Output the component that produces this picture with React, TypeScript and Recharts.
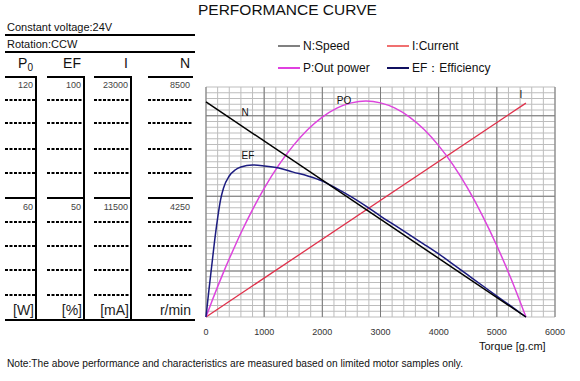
import React from "react";
import { LineChart, Line, XAxis, YAxis, CartesianGrid } from "recharts";

// ---- data (normalized 0-100 plot height) ----
const speedTorque = [0, 5500];
const speedValue = [93.5, 0];
const currentTorque = [0, 5500];
const currentValue = [0, 93];
const powerTorque = [0, 100, 200, 300, 400, 500, 600, 800, 1000, 1250, 1500, 1750, 2000, 2250, 2500, 2750, 3000, 3250, 3500, 3750, 4000, 4250, 4500, 4750, 5000, 5250, 5500];
const powerValue = [0, 6.7, 13.2, 19.4, 25.3, 31.0, 36.5, 46.7, 55.9, 66.0, 74.5, 81.5, 86.9, 90.8, 93.1, 93.9, 93.1, 90.8, 86.9, 81.5, 74.5, 66.0, 55.9, 44.2, 31.0, 16.3, 0];
const effTorque = [0, 50, 100, 150, 200, 250, 300, 400, 500, 600, 800, 1000, 1250, 1500, 1750, 2000, 2250, 2500, 2750, 3000, 3250, 3500, 3750, 4000, 4250, 4500, 4750, 5000, 5250, 5500];
const effValue = [0, 11.7, 22.6, 33.5, 43, 50.9, 56, 61.3, 63.9, 65.2, 66.1, 65.7, 64.8, 63, 61.3, 59.1, 55.8, 52.2, 48.2, 43.9, 39.8, 35.7, 31.6, 27.4, 22.9, 18.3, 13.7, 9.1, 4.6, 0];

const X_DOMAIN = [0, 6000];
const Y_DOMAIN = [0, 100];
const xTicks = [0, 1000, 2000, 3000, 4000, 5000, 6000];
const minorX = Array.from({ length: 31 }, (_, i) => i * 200);
const minorY = Array.from({ length: 41 }, (_, i) => i * 2.5);
const majorY = [20, 52.5, 87.5];

const tableHeaders = ["P", "EF", "I", "N"];
const topValues = ["120", "100", "23000", "8500"];
const midValues = ["60", "50", "11500", "4250"];
const units = ["[W]", "[%]", "[mA]", "r/min"];

const legendItems = [
  { label: "N:Speed", color: "#808080", x: 278, y: 46 },
  { label: "I:Current", color: "#f07070", x: 387, y: 46 },
  { label: "P:Out power", color: "#e040e0", x: 278, y: 68 },
  { label: "EF\uFF1AEfficiency", color: "#101060", x: 387, y: 68 },
];

const curveLabels = [
  { text: "N", x: 245, y: 113 },
  { text: "PO", x: 344, y: 101 },
  { text: "EF", x: 248, y: 156 },
  { text: "I", x: 521, y: 95 },
];

const toSeries = (t: number[], v: number[]) => t.map((x, i) => ({ t: x, v: v[i] }));

const colLeft = [5, 47, 94, 148];
const colRight = [36, 84, 131, 193];
const dottedY = [100, 123, 149, 173, 222, 246, 270, 295];

const FONT = "'Liberation Sans', Arial, sans-serif";

const xGen = (vals: number[]) => (p: any) => {
  const s = p?.xAxis?.scale;
  if (typeof s === "function") return vals.map((v) => s(v));
  const o = p.offset;
  return vals.map((v) => o.left + ((v - X_DOMAIN[0]) / (X_DOMAIN[1] - X_DOMAIN[0])) * o.width);
};
const yGen = (vals: number[]) => (p: any) => {
  const s = p?.yAxis?.scale;
  if (typeof s === "function") return vals.map((v) => s(v));
  const o = p.offset;
  return vals.map((v) => o.top + (1 - (v - Y_DOMAIN[0]) / (Y_DOMAIN[1] - Y_DOMAIN[0])) * o.height);
};

function Table() {
  return (
    <svg width={210} height={330} style={{ position: "absolute", left: 0, top: 0 }} fontFamily={FONT}>
      <text x={7} y={31} fontSize={11} fill="#111">Constant voltage:24V</text>
      <line x1={5} x2={195} y1={35} y2={35} stroke="#000" strokeWidth={2} />
      <text x={7} y={48} fontSize={11} fill="#111">Rotation:CCW</text>
      <line x1={5} x2={195} y1={52} y2={52} stroke="#000" strokeWidth={2} />
      {tableHeaders.map((h, i) => (
        <text key={h} x={colRight[i] - 3} y={68} fontSize={14} textAnchor="end" fill="#111">
          {h}
          {i === 0 ? <tspan fontSize={10} dy={3}>0</tspan> : null}
        </text>
      ))}
      {colLeft.map((l, i) => (
        <g key={i}>
          <line x1={l} x2={colRight[i]} y1={77} y2={77} stroke="#000" strokeWidth={2} />
          <line x1={l} x2={colRight[i]} y1={198} y2={198} stroke="#000" strokeWidth={2} />
          {i < 3 ? <line x1={colRight[i]} x2={colRight[i]} y1={76} y2={321} stroke="#000" strokeWidth={2} /> : null}
          {dottedY.map((y) => (
            <line key={y} x1={l} x2={colRight[i] - 1} y1={y} y2={y} stroke="#000" strokeWidth={2} strokeDasharray="3 1.5" />
          ))}
          <text x={colRight[i] - 3} y={88} fontSize={9} textAnchor="end" fill="#444">{topValues[i]}</text>
          <text x={colRight[i] - 3} y={210} fontSize={9} textAnchor="end" fill="#444">{midValues[i]}</text>
          <text x={colRight[i] - 2} y={315} fontSize={14} textAnchor="end" fill="#222">{units[i]}</text>
        </g>
      ))}
      <line x1={5} x2={195} y1={320} y2={320} stroke="#000" strokeWidth={2} />
    </svg>
  );
}

export default function App() {
  return (
    <div style={{ position: "absolute", left: 0, top: 0, width: 580, height: 381, background: "#fff", fontFamily: FONT }}>
      <LineChart width={580} height={381} margin={{ top: 87, right: 25, bottom: 34, left: 206 }}>
        <CartesianGrid
          stroke="#bdbdbd"
          verticalCoordinatesGenerator={xGen(minorX)}
          horizontalCoordinatesGenerator={yGen(minorY)}
        />
        <CartesianGrid
          stroke="#7a7a7a"
          verticalCoordinatesGenerator={xGen(xTicks)}
          horizontalCoordinatesGenerator={yGen(majorY)}
        />
        <XAxis
          dataKey="t"
          type="number"
          domain={X_DOMAIN}
          ticks={xTicks}
          axisLine={false}
          tickLine={false}
          height={30}
          tickMargin={6}
          tick={{ fontSize: 9, fill: "#333", fontFamily: FONT }}
          allowDuplicatedCategory={false}
        />
        <YAxis type="number" domain={Y_DOMAIN} hide />
        <Line data={toSeries(currentTorque, currentValue)} dataKey="v" type="linear" stroke="#e0304a" strokeWidth={1.3} dot={false} isAnimationActive={false} />
        <Line data={toSeries(powerTorque, powerValue)} dataKey="v" type="monotone" stroke="#dd44dd" strokeWidth={1.5} dot={false} isAnimationActive={false} />
        <Line data={toSeries(effTorque, effValue)} dataKey="v" type="monotone" stroke="#1c1c80" strokeWidth={1.5} dot={false} isAnimationActive={false} />
        <Line data={toSeries(speedTorque, speedValue)} dataKey="v" type="linear" stroke="#000" strokeWidth={1.5} dot={false} isAnimationActive={false} />
      </LineChart>

      <Table />

      <div style={{ position: "absolute", left: 198, top: 1, fontSize: 15.5, color: "#111", whiteSpace: "nowrap", lineHeight: "18px" }}>
        PERFORMANCE CURVE
      </div>

      {legendItems.map((it) => (
        <div key={it.label} style={{ position: "absolute", left: it.x, top: it.y - 8, height: 16, display: "flex", alignItems: "center", whiteSpace: "nowrap", fontSize: 12, color: "#111" }}>
          <span style={{ display: "inline-block", width: 22, height: 0, borderTop: `2px solid ${it.color}`, marginRight: 3 }} />
          {it.label}
        </div>
      ))}

      {curveLabels.map((c) => (
        <div key={c.text} style={{ position: "absolute", left: c.x, top: c.y - 7, transform: "translateX(-50%)", fontSize: 10, color: "#111", lineHeight: "14px" }}>
          {c.text}
        </div>
      ))}

      <div style={{ position: "absolute", left: 479, top: 339, fontSize: 11, color: "#111", whiteSpace: "nowrap", lineHeight: "14px" }}>
        Torque [g.cm]
      </div>

      <svg width={580} height={20} style={{ position: "absolute", left: 0, top: 354 }}>
        <text x={7} y={13} fontSize={10.5} fontFamily={FONT} fill="#111" textLength={456} lengthAdjust="spacingAndGlyphs">
          Note:The above performance and characteristics are measured based on limited motor samples only.
        </text>
      </svg>
    </div>
  );
}
